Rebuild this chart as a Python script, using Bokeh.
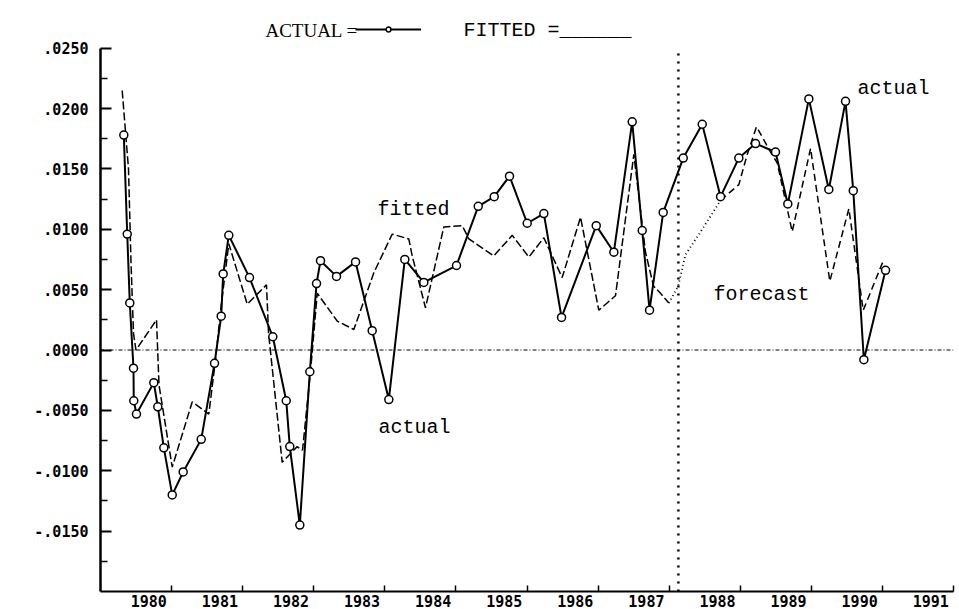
from bokeh.plotting import figure
from bokeh.models import Range1d, FixedTicker, Span, Legend, LegendItem, Label
from bokeh.embed import file_html
from bokeh.resources import INLINE

# ---------------- data ----------------
actual_year = [1979.328, 1979.376, 1979.412, 1979.464, 1979.468, 1979.506, 1979.750, 1979.806,
               1979.891, 1980.009, 1980.163, 1980.417, 1980.604, 1980.698, 1980.726, 1980.805,
               1981.096, 1981.424, 1981.613, 1981.663, 1981.804, 1981.945, 1982.039, 1982.095,
               1982.320, 1982.588, 1982.822, 1983.056, 1983.281, 1983.548, 1984.008, 1984.314,
               1984.539, 1984.754, 1985.003, 1985.237, 1985.486, 1985.974, 1986.222, 1986.480,
               1986.621, 1986.724, 1986.916, 1987.198, 1987.465, 1987.723, 1987.980, 1988.215,
               1988.496, 1988.669, 1988.965, 1989.246, 1989.481, 1989.590, 1989.739, 1990.044]
actual_value = [0.0178, 0.0096, 0.0039, -0.0015, -0.0042, -0.0053, -0.0027, -0.0047,
                -0.0081, -0.0120, -0.0101, -0.0074, -0.0011, 0.0028, 0.0063, 0.0095,
                0.0060, 0.0011, -0.0042, -0.0080, -0.0145, -0.0018, 0.0055, 0.0074,
                0.0061, 0.0073, 0.0016, -0.0041, 0.0075, 0.0056, 0.0070, 0.0119,
                0.0127, 0.0144, 0.0105, 0.0113, 0.0027, 0.0103, 0.0081, 0.0189,
                0.0099, 0.0033, 0.0114, 0.0159, 0.0187, 0.0127, 0.0159, 0.0171,
                0.0164, 0.0121, 0.0208, 0.0133, 0.0206, 0.0132, -0.0008, 0.0066]

fitted_year = [1979.305, 1979.394, 1979.429, 1979.464, 1979.499, 1979.788, 1979.823, 1980.009,
               1980.290, 1980.524, 1980.618, 1980.702, 1980.805, 1981.064, 1981.335, 1981.364,
               1981.556, 1981.767, 1981.842, 1981.954, 1982.049, 1982.330, 1982.564, 1982.845,
               1983.104, 1983.337, 1983.385, 1983.572, 1983.830, 1984.089, 1984.182, 1984.533,
               1984.792, 1985.026, 1985.237, 1985.495, 1985.753, 1986.010, 1986.245, 1986.503,
               1986.667, 1986.780, 1986.878, 1986.995]
fitted_value = [0.0215, 0.0150, 0.0073, 0.0014, 0.0000, 0.0025, -0.0029, -0.0097,
                -0.0043, -0.0053, -0.0008, 0.0039, 0.0088, 0.0038, 0.0054, 0.0014,
                -0.0093, -0.0080, -0.0083, -0.0018, 0.0047, 0.0024, 0.0017, 0.0064,
                0.0096, 0.0092, 0.0078, 0.0035, 0.0102, 0.0103, 0.0092, 0.0078,
                0.0095, 0.0077, 0.0093, 0.0060, 0.0110, 0.0033, 0.0045, 0.0162,
                0.0081, 0.0053, 0.0047, 0.0039]

forecast_year = [1986.995, 1987.127, 1987.230, 1987.487, 1987.723, 1987.980, 1988.098, 1988.229,
                 1988.426, 1988.520, 1988.731, 1988.989, 1989.260, 1989.528, 1989.730, 1990.020]
forecast_value = [0.0039, 0.0053, 0.0079, 0.0102, 0.0124, 0.0137, 0.0162, 0.0185,
                  0.0164, 0.0155, 0.0098, 0.0167, 0.0057, 0.0117, 0.0033, 0.0075]
dynamic_points = 5          # first forecast points drawn dotted

forecast_start = 1987.13    # vertical dotted divider
y_min, y_max = -0.020, 0.025

y_ticks = [0.025, 0.020, 0.015, 0.010, 0.005, 0.0, -0.005, -0.010, -0.015]
y_tick_labels = [".0250", ".0200", ".0150", ".0100", ".0050", ".0000", "-.0050", "-.0100", "-.0150"]
y_minor_ticks = [0.0225, 0.0175, 0.0125, 0.0075, 0.0025, -0.0025, -0.0075, -0.0125, -0.0175]
x_years = [1980, 1981, 1982, 1983, 1984, 1985, 1986, 1987, 1988, 1989, 1990, 1991]
x_tick_labels = ["1980", "1981", "1982", "1983", "1984", "1985", "1986", "1987",
                 "1988", "1989", "1990", "1991"]
label_shift = 0.32          # year labels sit left of their tick

# ---------------- figure ----------------
p = figure(width=959, height=609, output_backend="svg", toolbar_location=None, title=None,
           x_range=Range1d(1979.0, 1991.0), y_range=Range1d(y_min, 0.02895),
           min_border_left=100, min_border_right=6, min_border_top=0, min_border_bottom=18)
p.grid.visible = False
p.outline_line_color = None
p.background_fill_color = "white"
p.border_fill_color = "white"

mono = "DejaVu Sans Mono"

ya = p.yaxis[0]
ya.bounds = (y_min, y_max)
ya.ticker = FixedTicker(ticks=y_ticks, minor_ticks=y_minor_ticks)
ya.major_label_overrides = {t: l for t, l in zip(y_ticks, y_tick_labels)}
ya.axis_line_width = 2.5
ya.major_tick_in = 11
ya.major_tick_out = 0
ya.minor_tick_in = 7
ya.minor_tick_out = 0
ya.major_tick_line_width = 2
ya.minor_tick_line_width = 1.5
ya.major_label_standoff = 12
ya.major_label_text_font = mono
ya.major_label_text_font_style = "bold"
ya.major_label_text_font_size = "15px"
ya.major_label_text_color = "black"

label_pos = [yr - label_shift for yr in x_years]
xa = p.xaxis[0]
xa.ticker = FixedTicker(ticks=label_pos, minor_ticks=x_years)
xa.major_label_overrides = {t: l for t, l in zip(label_pos, x_tick_labels)}
xa.axis_line_width = 2
xa.major_tick_line_color = None
xa.major_tick_in = 0
xa.major_tick_out = 0
xa.minor_tick_in = 6
xa.minor_tick_out = 0
xa.minor_tick_line_width = 1.5
xa.major_label_standoff = 3
xa.major_label_text_font = mono
xa.major_label_text_font_style = "bold"
xa.major_label_text_font_size = "15px"
xa.major_label_text_color = "black"

# reference lines
p.add_layout(Span(location=0, dimension="width", line_color="black", line_width=1,
                  line_dash="4 2 1 2"))
p.segment(x0=[forecast_start], y0=[y_min], x1=[forecast_start], y1=[y_max],
          line_color="black", line_width=2.5, line_dash="2 6")

# series
p.line(fitted_year, fitted_value, line_color="black", line_width=1.5, line_dash="8 3")
p.line(forecast_year[:dynamic_points], forecast_value[:dynamic_points],
       line_color="black", line_width=1.8, line_dash="1 3")
p.line(forecast_year[dynamic_points - 1:], forecast_value[dynamic_points - 1:],
       line_color="black", line_width=1.5, line_dash="7 4")
actual_line = p.line(actual_year, actual_value, line_color="black", line_width=2)
actual_pts = p.scatter(actual_year, actual_value, marker="circle", size=8,
                       fill_color="white", line_color="black", line_width=1.5)

# key at the top
p.add_layout(Label(x=1981.32, y=0.0265, text="ACTUAL =", text_font="Liberation Serif",
                   text_font_size="19px", text_color="black", text_baseline="alphabetic"))
p.add_layout(Label(x=1984.107, y=0.0265, text="FITTED =______", text_font="Liberation Mono",
                   text_font_size="20px", text_color="black", text_baseline="alphabetic"))
key = Legend(items=[LegendItem(label="", renderers=[actual_line, actual_pts])],
             location=(255, 556), glyph_width=66, glyph_height=12, label_height=12,
             label_standoff=0, label_width=0, padding=0, margin=0, spacing=0,
             border_line_color=None, background_fill_alpha=0, label_text_font_size="1px")
p.add_layout(key)

# in-plot annotations
annot = "Liberation Mono"
for x, y, t in [(1982.897, 0.0116, "fitted"), (1982.911, -0.0064, "actual"),
                (1989.65, 0.0217, "actual"), (1987.624, 0.0046, "forecast")]:
    p.add_layout(Label(x=x, y=y, text=t, text_font=annot, text_font_size="20px",
                       text_color="black", text_baseline="alphabetic"))

open("out.html", "w").write(file_html(p, INLINE))
